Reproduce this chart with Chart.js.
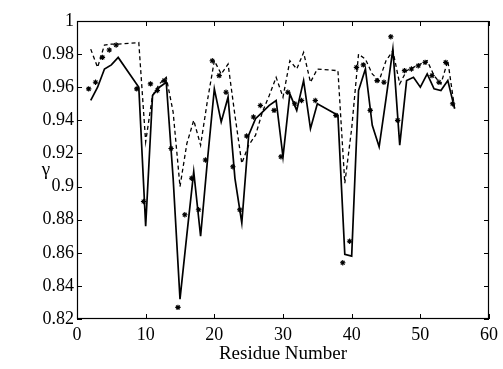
<!DOCTYPE html>
<html>
<head>
<meta charset="utf-8">
<script src="https://cdn.jsdelivr.net/npm/chart.js@4.4.1/dist/chart.umd.min.js"></script>
<style>
html,body{margin:0;padding:0;background:#fff;}
#wrap{width:503px;height:369px;}
</style>
</head>
<body>
<div id="wrap"><canvas id="c" width="503" height="369"></canvas></div>
<script>
// residues of the two lines
const residues = [2,3,4,5,6,9,10,11,12,13,14,15,16,17,18,19,20,21,22,23,24,25,26,27,28,29,30,31,32,33,34,35,38,39,40,41,42,43,44,45,46,47,48,49,50,51,52,53,54,55];
const solidGamma = [0.952,0.960,0.971,0.9735,0.978,0.960,0.876,0.955,0.960,0.963,0.905,0.832,0.871,0.909,0.870,0.916,0.959,0.939,0.954,0.905,0.878,0.931,0.941,0.945,0.949,0.952,0.918,0.956,0.946,0.964,0.935,0.950,0.943,0.859,0.858,0.958,0.971,0.937,0.924,0.953,0.983,0.925,0.964,0.966,0.960,0.968,0.959,0.958,0.964,0.947];
const dashedGamma = [0.983,0.972,0.9855,0.986,0.986,0.987,0.927,0.955,0.962,0.966,0.945,0.900,0.926,0.940,0.925,0.952,0.976,0.968,0.974,0.943,0.914,0.925,0.931,0.945,0.955,0.966,0.954,0.976,0.971,0.981,0.963,0.971,0.970,0.902,0.935,0.980,0.977,0.968,0.964,0.976,0.982,0.962,0.970,0.972,0.974,0.976,0.967,0.962,0.976,0.947];
// asterisk markers (x positions)
const starX = [1.7,2.7,3.7,4.7,5.7,8.7,9.7,10.7,11.7,12.7,13.7,14.7,15.7,16.7,17.7,18.7,19.7,20.7,21.7,22.7,23.7,24.7,25.7,26.7,28.7,29.7,30.7,31.7,32.7,34.7,37.7,38.7,39.7,40.7,41.7,42.7,43.7,44.7,45.7,46.7,47.7,48.7,49.7,50.7,51.7,52.7,53.7,54.7];
const starGamma = [0.959,0.963,0.978,0.9825,0.9855,0.959,0.891,0.962,0.958,0.964,0.923,0.827,0.883,0.905,0.886,0.916,0.976,0.967,0.957,0.912,0.886,0.9305,0.942,0.949,0.946,0.918,0.957,0.950,0.952,0.952,0.943,0.854,0.867,0.972,0.9735,0.946,0.964,0.963,0.9905,0.940,0.970,0.971,0.973,0.975,0.967,0.963,0.975,0.950];
const xTicks = [0,10,20,30,40,50,60];
const yTicks = [0.82,0.84,0.86,0.88,0.90,0.92,0.94,0.96,0.98,1.00];
const xLabel = 'Residue Number';
const yLabel = 'γ';

const FONT = 'Liberation Serif';

const framePlugin = {
  id: 'frame',
  afterDraw(chart) {
    const {ctx, chartArea: a, scales} = chart;
    ctx.save();
    ctx.strokeStyle = '#000';
    ctx.lineWidth = 1.2;
    ctx.strokeRect(a.left + 0.5, a.top + 0.5, a.right - a.left - 1, a.bottom - a.top - 1);
    const L = 5;
    ctx.lineWidth = 1;
    ctx.beginPath();
    xTicks.forEach(v => {
      const px = Math.round(scales.x.getPixelForValue(v)) + 0.5;
      ctx.moveTo(px, a.bottom); ctx.lineTo(px, a.bottom - L);
      ctx.moveTo(px, a.top); ctx.lineTo(px, a.top + L);
    });
    yTicks.forEach(v => {
      const py = Math.round(scales.y.getPixelForValue(v)) + 0.5;
      ctx.moveTo(a.left, py); ctx.lineTo(a.left + L, py);
      ctx.moveTo(a.right, py); ctx.lineTo(a.right - L, py);
    });
    ctx.stroke();
    ctx.fillStyle = '#000';
    ctx.font = '19px "' + FONT + '"';
    ctx.textAlign = 'center';
    ctx.textBaseline = 'middle';
    ctx.fillText(yLabel, 46, (a.top + a.bottom) / 2);
    ctx.restore();
  }
};

new Chart(document.getElementById('c'), {
  type: 'scatter',
  data: {
    datasets: [
      {
        data: residues.map((r, i) => ({x: r, y: solidGamma[i]})),
        showLine: true, borderColor: '#000', borderWidth: 1.7,
        pointRadius: 0, tension: 0, fill: false
      },
      {
        data: residues.map((r, i) => ({x: r, y: dashedGamma[i]})),
        showLine: true, borderColor: '#000', borderWidth: 1.3, borderDash: [4, 3],
        pointRadius: 0, tension: 0, fill: false
      },
      {
        data: starX.map((r, i) => ({x: r, y: starGamma[i]})),
        showLine: false, pointStyle: 'star', pointRadius: 2.7,
        borderColor: '#000', backgroundColor: '#000', pointBorderWidth: 1.1
      }
    ]
  },
  options: {
    responsive: false,
    animation: false,
    devicePixelRatio: 1,
    layout: {padding: {top: 21, right: 10, left: 0, bottom: 0}},
    plugins: {legend: {display: false}, tooltip: {enabled: false}},
    scales: {
      x: {
        type: 'linear', min: 0, max: 60,
        afterBuildTicks: s => { s.ticks = xTicks.map(v => ({value: v})); },
        ticks: {color: '#000', font: {family: FONT, size: 18}, padding: 5, maxRotation: 0,
          callback: v => String(v)},
        grid: {display: false, drawTicks: false},
        border: {display: false},
        title: {display: true, text: xLabel, color: '#000', font: {family: FONT, size: 19}, padding: {top: 0, bottom: 4}},
        afterFit: s => { s.height = 50; }
      },
      y: {
        type: 'linear', min: 0.82, max: 1,
        afterBuildTicks: s => { s.ticks = yTicks.map(v => ({value: v})); },
        ticks: {color: '#000', font: {family: FONT, size: 18}, padding: 3,
          callback: v => String(Number(v.toFixed(2)))},
        grid: {display: false, drawTicks: false},
        border: {display: false},
        afterFit: s => { s.width = 77; }
      }
    }
  },
  plugins: [framePlugin]
});
</script>
</body>
</html>
